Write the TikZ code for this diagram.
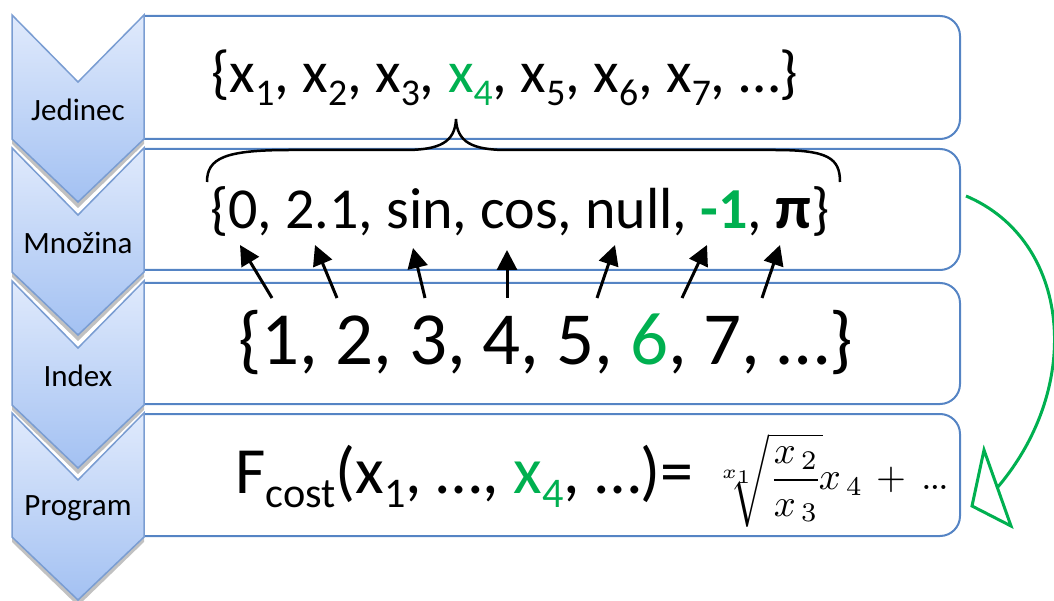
\documentclass[tikz,border=0pt]{standalone}
\usepackage{fontspec}
\setmainfont{Carlito}
\usepackage{graphicx}
\usetikzlibrary{arrows.meta}
\definecolor{grn}{HTML}{00B050}
\definecolor{chevb}{HTML}{7A9DD2}
\definecolor{chevt}{HTML}{E0EAFC}
\definecolor{chevbot}{HTML}{A3C1F2}
\definecolor{boxb}{HTML}{5584C4}
\newcommand\sbx[1]{\raisebox{-0.22em}{\scalebox{0.64}{#1}}}
\tikzset{
  chev/.style={draw=chevb, line width=1.5pt, top color=chevt, bottom color=chevbot, line join=miter},
  chevshadow/.style={fill=black!30, opacity=0.8},
  boxst/.style={draw=boxb, line width=2pt, rounded corners=20pt},
  lab/.style={inner sep=0pt, font=\fontsize{31}{36}\selectfont},
  rowtxt/.style={inner sep=0pt, anchor=base west},
  upar/.style={-{Triangle[length=20pt,width=20pt]}, line width=3pt},
  greenline/.style={draw=grn, line width=3pt},
}
\begin{document}
\begin{tikzpicture}[x=1pt,y=-1pt]
\useasboundingbox (0,0) rectangle (1054,601);
% boxes
\draw[boxst] (144,16) -- (960,16) -- (960,139) -- (144,139);
\draw[boxst] (144,149) -- (960,149) -- (960,270) -- (144,270);
\draw[boxst] (144,283) -- (960,283) -- (960,404) -- (144,404);
\draw[boxst] (144,414) -- (960,414) -- (960,536) -- (144,536);
% chevrons (bottom to top, each with a shadow)
\foreach \yy/\nm/\tx in {413/prog/Program, 281/idx/Index, 148/mno/Množina, 15/jed/Jedinec}{
  \fill[chevshadow] (12,\yy+5) -- (78,\yy+72) -- (144,\yy+5) -- (144,\yy+129) -- (78,\yy+193) -- (12,\yy+129) -- cycle;
  \draw[chev] (12,\yy) -- (78,\yy+67) -- (144,\yy) -- (144,\yy+124) -- (78,\yy+187) -- (12,\yy+124) -- cycle;
  \node[lab] (lab\nm) at (78,\yy+95) {\tx};
}
% row texts
\node[rowtxt] (r1) at (211,93) {\fontsize{59}{64}\selectfont \{x\sbx{1}, x\sbx{2}, x\sbx{3}, \textcolor{grn}{x\sbx{4}}, x\sbx{5}, x\sbx{6}, x\sbx{7}, …\}};
\node[rowtxt] (r2) at (210,229) {\fontsize{58}{64}\selectfont \{0, 2.1, sin, cos, null, \textcolor{grn}{\textbf{-1}}, {\fontsize{62}{70}\selectfont\bfseries π}\}};
\node[rowtxt] (r3) at (238,364) {\fontsize{75}{80}\selectfont \{1, 2, 3, 4, 5, \textcolor{grn}{6}, 7, …\}};
\node[rowtxt] (r4) at (235,493) {\fontsize{66}{70}\selectfont F\sbx{cost}(x\sbx{1}, …, \textcolor{grn}{x\sbx{4}}, …)=};
\node[inner sep=0pt, anchor=west] (fm) at (711,480) {\scalebox{3.85}{$\displaystyle\sqrt[x_1]{\frac{x_{\,2}}{x_{\,3}}}\mkern-2mu x_{\,4}\mkern2mu+\mkern3mu{.}\mkern-1mu{.}\mkern-1mu{.}$}};
% brace
\draw[line width=2.5pt] (207,182) .. controls (207,158) and (225,150) .. (290,150) -- (405,150) .. controls (440,150) and (455,142) .. (456,119) .. controls (457,142) and (472,150) .. (507,150) -- (775,150) .. controls (828,150) and (840,158) .. (840,182);
% index arrows
\foreach \i/\tx/\ty/\hx/\hy in {1/272/298/240/245, 2/337/298/315/245, 3/425/298/413/248, 4/507/298/507/250, 5/597/298/615/245, 6/682/298/707/245, 7/762/298/780/245}{
  \coordinate (t\i) at (\tx,\ty);
  \coordinate (h\i) at (\hx,\hy);
  \draw[upar] (t\i) -- (h\i);
}
% green curved arrow
\coordinate (gs) at (966,196);
\coordinate (ge) at (997,488);
\draw[greenline] (gs) .. controls (1070,240) and (1085,385) .. (ge);
\draw[greenline, line join=miter] (984,450) -- (972,506) -- (1011,526) -- cycle;
\end{tikzpicture}
\end{document}
